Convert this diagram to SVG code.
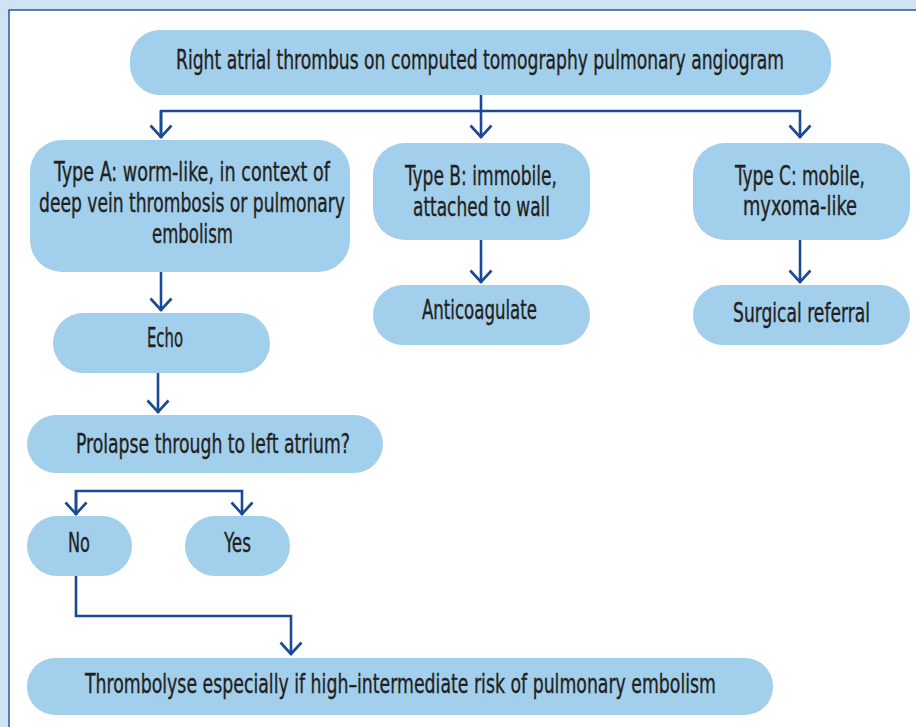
<svg xmlns="http://www.w3.org/2000/svg" width="916" height="727" viewBox="0 0 916 727">
<defs>
<style>
.n{fill:#a2cfec}
.t{font-family:"Liberation Sans Narrow","DejaVu Sans Condensed","Liberation Sans",sans-serif;font-size:26px;fill:#231f20;stroke:#231f20;stroke-width:0.35}
.c{fill:none;stroke:#1a4a93;stroke-width:2.6}
</style>
<marker id="ah" viewBox="0 0 16 24" refX="14" refY="12" markerWidth="16" markerHeight="24" markerUnits="userSpaceOnUse" orient="auto">
<path d="M1.5,1.5 L13,12 L1.5,22.5" fill="none" stroke="#1a4a93" stroke-width="2.6"/>
</marker>
</defs>
<rect x="0" y="0" width="916" height="727" fill="#cfe3f4"/>
<rect x="9" y="10" width="910" height="720" fill="#ffffff" stroke="#1f4f8e" stroke-width="1.4"/>
<g id="connectors">
<path class="c" d="M481,95 V138" marker-end="url(#ah)"/>
<path class="c" d="M161,138 V111 H800 V138" marker-end="url(#ah)"/>
<path class="c" d="M161,111 V138" marker-end="url(#ah)"/>
<path class="c" d="M481,240 V283" marker-end="url(#ah)"/>
<path class="c" d="M800,240 V283" marker-end="url(#ah)"/>
<path class="c" d="M161,268 V311" marker-end="url(#ah)"/>
<path class="c" d="M158,373 V413" marker-end="url(#ah)"/>
<path class="c" d="M76,515 V491 H242 V515" marker-end="url(#ah)"/>
<path class="c" d="M76,491 V515" marker-end="url(#ah)"/>
<path class="c" d="M76,576 V616 H291 V655" marker-end="url(#ah)"/>
</g>
<g id="top">
<rect class="n" x="130" y="30" width="701" height="65" rx="30"/>
<text class="t" x="176" y="69" textLength="608" lengthAdjust="spacingAndGlyphs">Right atrial thrombus on computed tomography pulmonary angiogram</text>
</g>
<g id="typeA">
<rect class="n" x="30" y="140" width="320" height="132" rx="32"/>
<text class="t" x="54" y="181" textLength="276" lengthAdjust="spacingAndGlyphs">Type A: worm-like, in context of</text>
<text class="t" x="39" y="212" textLength="306" lengthAdjust="spacingAndGlyphs">deep vein thrombosis or pulmonary</text>
<text class="t" x="152" y="243" textLength="81" lengthAdjust="spacingAndGlyphs">embolism</text>
</g>
<g id="typeB">
<rect class="n" x="373" y="143" width="217" height="97" rx="32"/>
<text class="t" x="405" y="185" textLength="152" lengthAdjust="spacingAndGlyphs">Type B: immobile,</text>
<text class="t" x="413" y="216" textLength="137" lengthAdjust="spacingAndGlyphs">attached to wall</text>
</g>
<g id="typeC">
<rect class="n" x="693" y="143" width="217" height="97" rx="32"/>
<text class="t" x="735" y="185" textLength="130" lengthAdjust="spacingAndGlyphs">Type C: mobile,</text>
<text class="t" x="743" y="215" textLength="114" lengthAdjust="spacingAndGlyphs">myxoma-like</text>
</g>
<g id="anticoagulate">
<rect class="n" x="373" y="285" width="217" height="60" rx="30"/>
<text class="t" x="422" y="319" textLength="115" lengthAdjust="spacingAndGlyphs">Anticoagulate</text>
</g>
<g id="surgical">
<rect class="n" x="693" y="285" width="217" height="60" rx="30"/>
<text class="t" x="733" y="322" textLength="137" lengthAdjust="spacingAndGlyphs">Surgical referral</text>
</g>
<g id="echo">
<rect class="n" x="53" y="313" width="217" height="60" rx="30"/>
<text class="t" x="147" y="347" textLength="36" lengthAdjust="spacingAndGlyphs">Echo</text>
</g>
<g id="prolapse">
<rect class="n" x="27" y="415" width="356" height="58" rx="29"/>
<text class="t" x="76" y="453" textLength="274" lengthAdjust="spacingAndGlyphs">Prolapse through to left atrium?</text>
</g>
<g id="no">
<rect class="n" x="27" y="516" width="105" height="60" rx="30"/>
<text class="t" x="68" y="552" textLength="22" lengthAdjust="spacingAndGlyphs">No</text>
</g>
<g id="yes">
<rect class="n" x="185" y="516" width="105" height="60" rx="30"/>
<text class="t" x="224" y="552" textLength="27" lengthAdjust="spacingAndGlyphs">Yes</text>
</g>
<g id="thrombolyse">
<rect class="n" x="27" y="658" width="746" height="57" rx="28"/>
<text class="t" x="85" y="693" textLength="631" lengthAdjust="spacingAndGlyphs">Thrombolyse especially if high–intermediate risk of pulmonary embolism</text>
</g>
</svg>
